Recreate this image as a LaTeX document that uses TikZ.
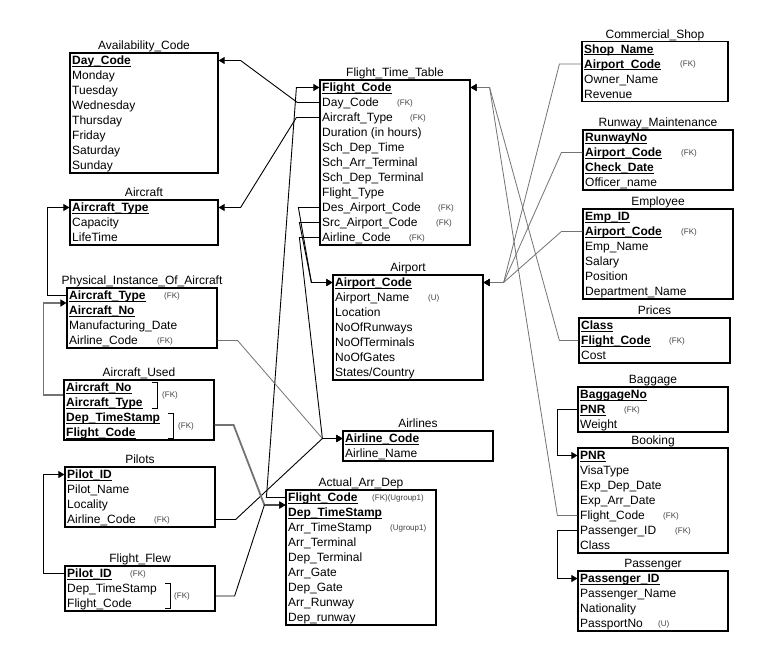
\documentclass[tikz,border=0pt]{standalone}
\usepackage{fontspec}
\setmainfont{Liberation Sans}
\usetikzlibrary{arrows.meta,calc}

% bold, underlined key attribute
\newsavebox\pkbox
\newcommand\pkt[1]{\sbox\pkbox{\bfseries #1}\rlap{\rule[-1.6pt]{\wd\pkbox}{0.8pt}}\usebox\pkbox}
% table: name, left, top, width, height, title
\newcommand\etab[6]{%
  \node[tbox,minimum width=#4pt,minimum height=#5pt] (#1) at (#2+#4/2,#3+#5/2) {};
  \node[ttl] (#1-title) at (#2+#4/2,#3-3.5) {#6};}
% row: name, table left, table top, index, text
\newcommand\erow[5]{\node[rowtxt] (#1) at (#2+2,#3+15*#4-7.5) {#5};}
% side note: name, x, table top, index, text
\newcommand\efk[5]{\node[fktxt] (#1) at (#2,#3+15*#4-7.5) {#5};}

\begin{document}
\begin{tikzpicture}[x=1pt,y=-1pt,
  tbox/.style={draw=black,line width=1.2pt,inner sep=0pt},
  ttl/.style={anchor=base,inner sep=0pt,font=\fontsize{12}{14}\selectfont},
  rowtxt/.style={anchor=west,inner sep=0pt,text height=8.6pt,text depth=0pt,font=\fontsize{12}{14}\selectfont},
  fktxt/.style={anchor=west,inner sep=0pt,text height=5.8pt,text depth=0pt,font=\fontsize{8}{9}\selectfont,text=black!75},
  tip/.style={-{Triangle[length=6pt,width=7pt,color=black]}},
  rel/.style={draw=black,line width=0.9pt,tip},
  relg/.style={draw=black!55,line width=0.8pt,tip},
  relgt/.style={draw=black!55,line width=1.8pt,tip},
  brk/.style={draw=black,line width=1pt}]

\fill[white] (0,0) rectangle (758,657);
\useasboundingbox (0,0) rectangle (758,657);

% ---------------- Availability_Code
\etab{avail}{70}{53}{148}{120}{Availability\_Code}
\erow{avail-1}{70}{53}{1}{\pkt{Day\_Code}}
\erow{avail-2}{70}{53}{2}{Monday}
\erow{avail-3}{70}{53}{3}{Tuesday}
\erow{avail-4}{70}{53}{4}{Wednesday}
\erow{avail-5}{70}{53}{5}{Thursday}
\erow{avail-6}{70}{53}{6}{Friday}
\erow{avail-7}{70}{53}{7}{Saturday}
\erow{avail-8}{70}{53}{8}{Sunday}

% ---------------- Aircraft
\etab{craft}{70}{200}{148}{45}{Aircraft}
\erow{craft-1}{70}{200}{1}{\pkt{Aircraft\_Type}}
\erow{craft-2}{70}{200}{2}{Capacity}
\erow{craft-3}{70}{200}{3}{LifeTime}

% ---------------- Flight_Time_Table
\etab{ftt}{320}{80}{150}{165}{Flight\_Time\_Table}
\erow{ftt-1}{320}{80}{1}{\pkt{Flight\_Code}}
\erow{ftt-2}{320}{80}{2}{Day\_Code}
\efk{ftt-2-fk}{397}{80}{2}{(FK)}
\erow{ftt-3}{320}{80}{3}{Aircraft\_Type}
\efk{ftt-3-fk}{410}{80}{3}{(FK)}
\erow{ftt-4}{320}{80}{4}{Duration (in hours)}
\erow{ftt-5}{320}{80}{5}{Sch\_Dep\_Time}
\erow{ftt-6}{320}{80}{6}{Sch\_Arr\_Terminal}
\erow{ftt-7}{320}{80}{7}{Sch\_Dep\_Terminal}
\erow{ftt-8}{320}{80}{8}{Flight\_Type}
\erow{ftt-9}{320}{80}{9}{Des\_Airport\_Code}
\efk{ftt-9-fk}{438}{80}{9}{(FK)}
\erow{ftt-10}{320}{80}{10}{Src\_Airport\_Code}
\efk{ftt-10-fk}{436}{80}{10}{(FK)}
\erow{ftt-11}{320}{80}{11}{Airline\_Code}
\efk{ftt-11-fk}{409}{80}{11}{(FK)}

% ---------------- Commercial_Shop
\etab{shop}{582}{41.5}{146}{60}{Commercial\_Shop}
\erow{shop-1}{582}{41.5}{1}{\pkt{Shop\_Name}}
\erow{shop-2}{582}{41.5}{2}{\pkt{Airport\_Code}}
\efk{shop-2-fk}{680}{41.5}{2}{(FK)}
\erow{shop-3}{582}{41.5}{3}{Owner\_Name}
\erow{shop-4}{582}{41.5}{4}{Revenue}

% ---------------- Runway_Maintenance
\etab{runway}{583}{130}{150}{60}{Runway\_Maintenance}
\erow{runway-1}{583}{130}{1}{\pkt{RunwayNo}}
\erow{runway-2}{583}{130}{2}{\pkt{Airport\_Code}}
\efk{runway-2-fk}{681}{130}{2}{(FK)}
\erow{runway-3}{583}{130}{3}{\pkt{Check\_Date}}
\erow{runway-4}{583}{130}{4}{Officer\_name}

% ---------------- Employee
\etab{emp}{583}{209}{150}{90}{Employee}
\erow{emp-1}{583}{209}{1}{\pkt{Emp\_ID}}
\erow{emp-2}{583}{209}{2}{\pkt{Airport\_Code}}
\efk{emp-2-fk}{681}{209}{2}{(FK)}
\erow{emp-3}{583}{209}{3}{Emp\_Name}
\erow{emp-4}{583}{209}{4}{Salary}
\erow{emp-5}{583}{209}{5}{Position}
\erow{emp-6}{583}{209}{6}{Department\_Name}

% ---------------- Physical_Instance_Of_Aircraft
\etab{phys}{67}{288}{150}{60}{Physical\_Instance\_Of\_Aircraft}
\erow{phys-1}{67}{288}{1}{\pkt{Aircraft\_Type}}
\efk{phys-1-fk}{164}{288}{1}{(FK)}
\erow{phys-2}{67}{288}{2}{\pkt{Aircraft\_No}}
\erow{phys-3}{67}{288}{3}{Manufacturing\_Date}
\erow{phys-4}{67}{288}{4}{Airline\_Code}
\efk{phys-4-fk}{157}{288}{4}{(FK)}

% ---------------- Aircraft_Used
\etab{used}{64}{380}{150}{60}{Aircraft\_Used}
\erow{used-1}{64}{380}{1}{\pkt{Aircraft\_No}}
\erow{used-2}{64}{380}{2}{\pkt{Aircraft\_Type}}
\erow{used-3}{64}{380}{3}{\pkt{Dep\_TimeStamp}}
\erow{used-4}{64}{380}{4}{\pkt{Flight\_Code}}
\draw[brk] (152,382) -- (157,382) -- (157,408) -- (152,408);
\node[fktxt] (used-a-fk) at (162,395) {(FK)};
\draw[brk] (168,413) -- (173,413) -- (173,438) -- (168,438);
\node[fktxt] (used-b-fk) at (178,426) {(FK)};

% ---------------- Airport
\etab{port}{333}{275}{150}{105}{Airport}
\erow{port-1}{333}{275}{1}{\pkt{Airport\_Code}}
\erow{port-2}{333}{275}{2}{Airport\_Name}
\efk{port-2-fk}{428}{275}{2}{(U)}
\erow{port-3}{333}{275}{3}{Location}
\erow{port-4}{333}{275}{4}{NoOfRunways}
\erow{port-5}{333}{275}{5}{NoOfTerminals}
\erow{port-6}{333}{275}{6}{NoOfGates}
\erow{port-7}{333}{275}{7}{States/Country}

% ---------------- Airlines
\etab{line}{343}{431}{150}{30}{Airlines}
\erow{line-1}{343}{431}{1}{\pkt{Airline\_Code}}
\erow{line-2}{343}{431}{2}{Airline\_Name}

% ---------------- Prices
\etab{price}{579}{318}{151}{45}{Prices}
\erow{price-1}{579}{318}{1}{\pkt{Class}}
\erow{price-2}{579}{318}{2}{\pkt{Flight\_Code}}
\efk{price-2-fk}{669}{318}{2}{(FK)}
\erow{price-3}{579}{318}{3}{Cost}

% ---------------- Baggage
\etab{bag}{578}{387}{150}{45}{Baggage}
\erow{bag-1}{578}{387}{1}{\pkt{BaggageNo}}
\erow{bag-2}{578}{387}{2}{\pkt{PNR}}
\efk{bag-2-fk}{624}{387}{2}{(FK)}
\erow{bag-3}{578}{387}{3}{Weight}

% ---------------- Booking
\etab{book}{578}{448}{150}{105}{Booking}
\erow{book-1}{578}{448}{1}{\pkt{PNR}}
\erow{book-2}{578}{448}{2}{VisaType}
\erow{book-3}{578}{448}{3}{Exp\_Dep\_Date}
\erow{book-4}{578}{448}{4}{Exp\_Arr\_Date}
\erow{book-5}{578}{448}{5}{Flight\_Code}
\efk{book-5-fk}{663}{448}{5}{(FK)}
\erow{book-6}{578}{448}{6}{Passenger\_ID}
\efk{book-6-fk}{675}{448}{6}{(FK)}
\erow{book-7}{578}{448}{7}{Class}

% ---------------- Passenger
\etab{pass}{578}{571}{150}{60}{Passenger}
\erow{pass-1}{578}{571}{1}{\pkt{Passenger\_ID}}
\erow{pass-2}{578}{571}{2}{Passenger\_Name}
\erow{pass-3}{578}{571}{3}{Nationality}
\erow{pass-4}{578}{571}{4}{PassportNo}
\efk{pass-4-fk}{658}{571}{4}{(U)}

% ---------------- Pilots
\etab{pilot}{65}{467}{150}{60}{Pilots}
\erow{pilot-1}{65}{467}{1}{\pkt{Pilot\_ID}}
\erow{pilot-2}{65}{467}{2}{Pilot\_Name}
\erow{pilot-3}{65}{467}{3}{Locality}
\erow{pilot-4}{65}{467}{4}{Airline\_Code}
\efk{pilot-4-fk}{154}{467}{4}{(FK)}

% ---------------- Flight_Flew
\etab{flew}{65}{566}{150}{45}{Flight\_Flew}
\erow{flew-1}{65}{566}{1}{\pkt{Pilot\_ID}}
\efk{flew-1-fk}{130}{566}{1}{(FK)}
\erow{flew-2}{65}{566}{2}{Dep\_TimeStamp}
\erow{flew-3}{65}{566}{3}{Flight\_Code}
\draw[brk] (165,583) -- (170,583) -- (170,608) -- (165,608);
\node[fktxt] (flew-b-fk) at (174,596) {(FK)};

% ---------------- Actual_Arr_Dep
\etab{act}{286}{490}{150}{135}{Actual\_Arr\_Dep}
\erow{act-1}{286}{490}{1}{\pkt{Flight\_Code}}
\efk{act-1-fk}{372}{490}{1}{(FK)(Ugroup1)}
\erow{act-2}{286}{490}{2}{\pkt{Dep\_TimeStamp}}
\erow{act-3}{286}{490}{3}{Arr\_TimeStamp}
\efk{act-3-fk}{390}{490}{3}{(Ugroup1)}
\erow{act-4}{286}{490}{4}{Arr\_Terminal}
\erow{act-5}{286}{490}{5}{Dep\_Terminal}
\erow{act-6}{286}{490}{6}{Arr\_Gate}
\erow{act-7}{286}{490}{7}{Dep\_Gate}
\erow{act-8}{286}{490}{8}{Arr\_Runway}
\erow{act-9}{286}{490}{9}{Dep\_runway}

% ================= relationships
% Flight_Time_Table -> Availability_Code, Aircraft
\draw[rel] (ftt.west |- ftt-2) -- ++(-22,0) -- ($(avail.east |- avail-1)+(22,0)$) -- (avail.east |- avail-1);
\draw[rel] (ftt.west |- ftt-3) -- ++(-23,0) -- ($(craft.east |- craft-1)+(22,0)$) -- (craft.east |- craft-1);
% Actual_Arr_Dep -> Flight_Time_Table
\draw[rel] (act.west |- act-1) -- ++(-19,0) -- ($(ftt.west |- ftt-1)+(-23,0)$) -- (ftt.west |- ftt-1);
% Flight_Time_Table -> Airport
\draw[rel] (ftt.west |- ftt-9) -- ++(-21,0) -- ($(port.west |- port-1)+(-21,0)$) -- (port.west |- port-1);
\draw[rel] (ftt.west |- ftt-10) -- ++(-20,0) -- ($(port.west |- port-1)+(-21,0)$) -- (port.west |- port-1);
% -> Airlines
\draw[rel] (ftt.west |- ftt-11) -- ++(-20,0) -- ($(line.west |- line-1)+(-20,0)$) -- (line.west |- line-1);
\draw[relg] (phys.east |- phys-4) -- ++(20,0) -- ($(line.west |- line-1)+(-20,0)$) -- (line.west |- line-1);
\draw[rel] (pilot.east |- pilot-4) -- ++(20,0) -- ($(line.west |- line-1)+(-20,0)$) -- (line.west |- line-1);
% Physical_Instance_Of_Aircraft -> Aircraft
\draw[rel] (phys.west |- phys-1) -- ++(-19,0) |- (craft.west |- craft-1);
% Aircraft_Used -> Physical_Instance_Of_Aircraft
\draw[relgt] ($(used.west |- used-1)!0.5!(used.west |- used-2)$) -- ++(-20,0)
  |- ($(phys.west |- phys-1)!0.5!(phys.west |- phys-2)$);
% Aircraft_Used, Flight_Flew -> Actual_Arr_Dep
\draw[relgt] ($(used.east |- used-3)!0.5!(used.east |- used-4)$) -- ++(19,0)
  -- ($(act.west |- act-1)!0.5!(act.west |- act-2)+(-21,0)$) -- ($(act.west |- act-1)!0.5!(act.west |- act-2)$);
\draw[rel] ($(flew.east |- flew-2)!0.5!(flew.east |- flew-3)$) -- ++(19,0)
  -- ($(act.west |- act-1)!0.5!(act.west |- act-2)+(-21,0)$) -- ($(act.west |- act-1)!0.5!(act.west |- act-2)$);
% Flight_Flew -> Pilots
\draw[rel] (flew.west |- flew-1) -- ++(-21,0) |- (pilot.west |- pilot-1);
% Commercial_Shop, Runway_Maintenance, Employee -> Airport
\draw[relg] (shop.west |- shop-2) -- ++(-22,0) -- ($(port.east |- port-1)+(20,0)$) -- (port.east |- port-1);
\draw[relg] (runway.west |- runway-2) -- ++(-21,0) -- ($(port.east |- port-1)+(20,0)$) -- (port.east |- port-1);
\draw[relg] (emp.west |- emp-2) -- ++(-21,0) -- ($(port.east |- port-1)+(20,0)$) -- (port.east |- port-1);
% Prices, Booking -> Flight_Time_Table
\draw[relg] (price.west |- price-2) -- ++(-19,0) -- ($(ftt.east |- ftt-1)+(19,0)$) -- (ftt.east |- ftt-1);
\draw[relg] (book.west |- book-5) -- ++(-20,0) -- ($(ftt.east |- ftt-1)+(19,0)$) -- (ftt.east |- ftt-1);
% Baggage -> Booking, Booking -> Passenger
\draw[rel] (bag.west |- bag-2) -- ++(-20,0) |- (book.west |- book-1);
\draw[rel] (book.west |- book-6) -- ++(-20,0) |- (pass.west |- pass-1);
\end{tikzpicture}
\end{document}
